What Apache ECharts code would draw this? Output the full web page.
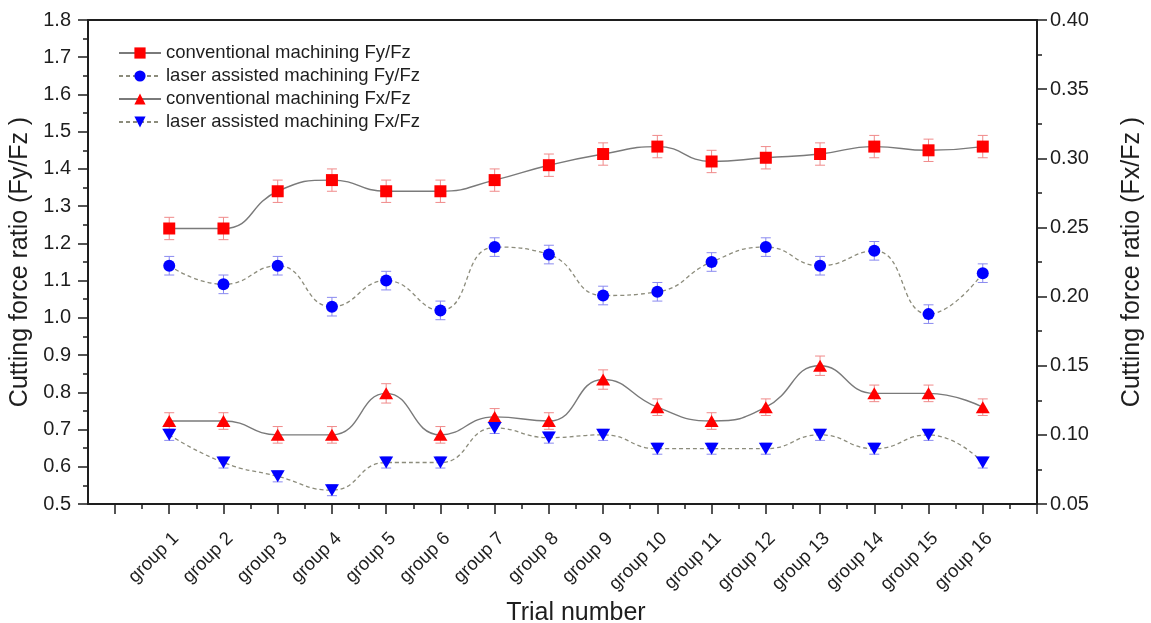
<!DOCTYPE html>
<html>
<head>
<meta charset="utf-8">
<script src="https://cdn.jsdelivr.net/npm/echarts@6/dist/echarts.min.js"></script>
<style>
  html, body { margin: 0; padding: 0; background: #fff; }
  #chart { width: 1151px; height: 623px; }
</style>
</head>
<body>
<div id="chart"></div>
<script>
// Trial groups (tick labels along the bottom axis)
const groups = ['group 1', 'group 2', 'group 3', 'group 4', 'group 5', 'group 6', 'group 7', 'group 8',
                'group 9', 'group 10', 'group 11', 'group 12', 'group 13', 'group 14', 'group 15', 'group 16'];

// Fy/Fz ratios (left axis)
const fyConv      = [1.24, 1.24, 1.34, 1.37, 1.34, 1.34, 1.37, 1.41, 1.44, 1.46, 1.42, 1.43, 1.44, 1.46, 1.45, 1.46];
const fyConvErr   = [0.03, 0.03, 0.03, 0.03, 0.03, 0.03, 0.03, 0.03, 0.03, 0.03, 0.03, 0.03, 0.03, 0.03, 0.03, 0.03];
const fyLaser     = [1.14, 1.09, 1.14, 1.03, 1.10, 1.02, 1.19, 1.17, 1.06, 1.07, 1.15, 1.19, 1.14, 1.18, 1.01, 1.12];
const fyLaserErr  = [0.025, 0.025, 0.025, 0.025, 0.025, 0.025, 0.025, 0.025, 0.025, 0.025, 0.025, 0.025, 0.025, 0.025, 0.025, 0.025];

// Fx/Fz ratios (right axis)
const fxConv      = [0.110, 0.110, 0.100, 0.100, 0.130, 0.100, 0.113, 0.110, 0.140, 0.120, 0.110, 0.120, 0.150, 0.130, 0.130, 0.120];
const fxConvErr   = [0.006, 0.006, 0.006, 0.006, 0.007, 0.006, 0.006, 0.006, 0.007, 0.006, 0.006, 0.006, 0.007, 0.006, 0.006, 0.006];
const fxLaser     = [0.100, 0.080, 0.070, 0.060, 0.080, 0.080, 0.105, 0.098, 0.100, 0.090, 0.090, 0.090, 0.100, 0.090, 0.100, 0.080];
const fxLaserErr  = [0.004, 0.004, 0.004, 0.004, 0.004, 0.004, 0.004, 0.004, 0.004, 0.004, 0.004, 0.004, 0.004, 0.004, 0.004, 0.004];

const names = [
  'conventional machining Fy/Fz',
  'laser assisted machining Fy/Fz',
  'conventional machining Fx/Fz',
  'laser assisted machining Fx/Fz'
];

const FONT = '"Liberation Sans", Arial, sans-serif';
const INK = '#1e1e1e';

// group n sits at x = n on the data axis
const points = vals => vals.map((v, i) => [i + 1, v]);
const errPoints = (vals, errs) => vals.map((v, i) => [i + 1, v, errs[i]]);

function errorBars(color) {
  return function (params, api) {
    const x = api.value(0), y = api.value(1), e = api.value(2);
    const hi = api.coord([x, y + e]);
    const lo = api.coord([x, y - e]);
    const hw = 5;
    const style = { stroke: color, lineWidth: 1 };
    return {
      type: 'group',
      children: [
        { type: 'line', shape: { x1: hi[0], y1: hi[1], x2: lo[0], y2: lo[1] }, style },
        { type: 'line', shape: { x1: hi[0] - hw, y1: hi[1], x2: hi[0] + hw, y2: hi[1] }, style },
        { type: 'line', shape: { x1: lo[0] - hw, y1: lo[1], x2: lo[0] + hw, y2: lo[1] }, style }
      ]
    };
  };
}

function lineSeries(name, vals, yIdx, symbol, size, color, dashed) {
  return {
    name, type: 'line', xAxisIndex: 2, yAxisIndex: yIdx,
    data: points(vals), smooth: 0.5,
    symbol, symbolSize: size,
    itemStyle: { color },
    lineStyle: dashed ? { color: '#8c8c7c', width: 1.3, type: [4, 3] } : { color: '#7a7a7a', width: 1.4 },
    z: 3
  };
}

function errSeries(vals, errs, yIdx, color) {
  return {
    type: 'custom', xAxisIndex: 2, yAxisIndex: yIdx,
    data: errPoints(vals, errs), renderItem: errorBars(color),
    silent: true, z: 2
  };
}

const axisLineStyle = { color: INK, width: 2 };
const tickStyle = { color: INK, width: 1.5 };

const chart = echarts.init(document.getElementById('chart'), null, { renderer: 'canvas' });
chart.setOption({
  animation: false,
  backgroundColor: '#fff',
  textStyle: { fontFamily: FONT, color: INK },
  grid: [
    { left: 88, right: 114, top: 20, bottom: 119, containLabel: false, outerBoundsMode: 'none' },
    { left: 115, right: 114, top: 20, bottom: 119, containLabel: false, outerBoundsMode: 'none' }
  ],
  legend: {
    data: names,
    orient: 'vertical',
    left: 118, top: 42.5, padding: 0,
    itemWidth: 42, itemHeight: 14, itemGap: 2,
    textStyle: { fontSize: 18.5, lineHeight: 21, fontFamily: FONT, color: INK }
  },
  xAxis: [
    {
      gridIndex: 0, type: 'value', min: -0.5, max: 17, position: 'bottom',
      axisLine: { show: true, onZero: false, lineStyle: axisLineStyle },
      axisTick: { show: false }, axisLabel: { show: false }, splitLine: { show: false }
    },
    {
      gridIndex: 0, type: 'value', min: -0.5, max: 17, position: 'top',
      axisLine: { show: true, onZero: false, lineStyle: axisLineStyle },
      axisTick: { show: false }, axisLabel: { show: false }, splitLine: { show: false }
    },
    {
      gridIndex: 1, type: 'value', min: 0, max: 17, interval: 1, position: 'bottom',
      axisLine: { show: false, onZero: false },
      axisTick: { show: true, length: 10, lineStyle: tickStyle },
      minorTick: { show: true, splitNumber: 2, length: 5, lineStyle: tickStyle },
      splitLine: { show: false }, minorSplitLine: { show: false },
      axisLabel: {
        rotate: 45, margin: 25, fontSize: 18.5, fontFamily: FONT, color: INK, verticalAlign: 'top',
        formatter: v => (Number.isInteger(v) && v >= 1 && v <= groups.length) ? groups[v - 1] : ''
      },
      name: 'Trial number', nameLocation: 'middle', nameGap: 90,
      nameTextStyle: { fontSize: 25, fontFamily: FONT, color: INK }
    }
  ],
  yAxis: [
    { gridIndex: 0, type: 'value', min: 0, max: 1, show: false },
    {
      gridIndex: 1, type: 'value', position: 'left', offset: 27,
      min: 0.5, max: 1.8, interval: 0.1,
      axisLine: { show: true, onZero: false, lineStyle: axisLineStyle },
      axisTick: { show: true, length: 10, lineStyle: tickStyle },
      minorTick: { show: true, splitNumber: 2, length: 5, lineStyle: tickStyle },
      splitLine: { show: false }, minorSplitLine: { show: false },
      axisLabel: { fontSize: 20, margin: 17, fontFamily: FONT, color: INK, formatter: v => v.toFixed(1) },
      name: 'Cutting force ratio (Fy/Fz )', nameLocation: 'middle', nameRotate: 90, nameGap: 44,
      nameTextStyle: { fontSize: 25, fontFamily: FONT, color: INK }
    },
    {
      gridIndex: 1, type: 'value', position: 'right',
      min: 0.05, max: 0.40, interval: 0.05,
      axisLine: { show: true, onZero: false, lineStyle: axisLineStyle },
      axisTick: { show: true, length: 10, lineStyle: tickStyle },
      minorTick: { show: true, splitNumber: 2, length: 5, lineStyle: tickStyle },
      splitLine: { show: false }, minorSplitLine: { show: false },
      axisLabel: { fontSize: 20, margin: 13, fontFamily: FONT, color: INK, formatter: v => v.toFixed(2) },
      name: 'Cutting force ratio (Fx/Fz )', nameLocation: 'middle', nameRotate: 90, nameGap: 83,
      nameTextStyle: { fontSize: 25, fontFamily: FONT, color: INK }
    }
  ],
  series: [
    errSeries(fyConv, fyConvErr, 1, '#f08a8a'),
    errSeries(fyLaser, fyLaserErr, 1, '#8a8af0'),
    errSeries(fxConv, fxConvErr, 2, '#f08a8a'),
    errSeries(fxLaser, fxLaserErr, 2, '#8a8af0'),
    lineSeries(names[0], fyConv, 1, 'rect', 12, '#ff0000', false),
    lineSeries(names[1], fyLaser, 1, 'circle', 12, '#0000ff', true),
    lineSeries(names[2], fxConv, 2, 'triangle', [14, 12], '#ff0000', false),
    lineSeries(names[3], fxLaser, 2, 'path://M0,0 L10,0 L5,9 Z', [14, 12], '#0000ff', true)
  ]
});
</script>
</body>
</html>
